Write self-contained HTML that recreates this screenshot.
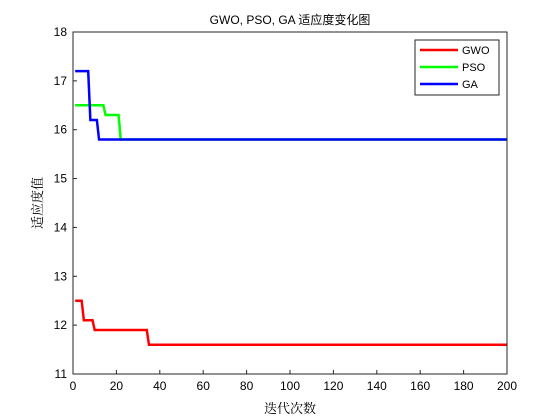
<!DOCTYPE html>
<html><head><meta charset="utf-8"><style>
body{margin:0;background:#fff;}
svg{display:block;font-family:"Liberation Sans","Noto Sans CJK SC",sans-serif;}
</style></head><body>
<svg id="chart" width="560" height="420">
<rect x="0" y="0" width="560" height="420" fill="#fff"/>
<rect x="73" y="32" width="434" height="342" fill="#fff" stroke="none"/>
<g id="grid"></g>
<g id="series"></g>
<rect x="73" y="32" width="434" height="342" fill="none" stroke="#262626" stroke-width="1"/>
<g id="ticks"></g>
<text x="290" y="24" font-size="12" text-anchor="middle" fill="#000">GWO, PSO, GA 适应度变化图</text>
<text x="290" y="413" font-size="13" text-anchor="middle" fill="#000" font-family="Liberation Serif,Noto Serif CJK SC,serif">迭代次数</text>
<text x="0" y="0" font-size="13" text-anchor="middle" fill="#000" transform="translate(42,203) rotate(-90)" font-family="Liberation Serif,Noto Serif CJK SC,serif">适应度值</text>
<g>
<rect x="415" y="40" width="84" height="55" fill="#fff" stroke="#262626" stroke-width="1"/>
<line x1="420" y1="50" x2="458" y2="50" stroke="#ff0000" stroke-width="2.5"/>
<text x="462" y="54" font-size="11">GWO</text>
<line x1="420" y1="67" x2="458" y2="67" stroke="#00ff00" stroke-width="2.5"/>
<text x="462" y="71" font-size="11">PSO</text>
<line x1="420" y1="84" x2="458" y2="84" stroke="#0000ff" stroke-width="2.5"/>
<text x="462" y="88" font-size="11">GA</text>
</g>
</svg>
<script>
const xTicks=[0,20,40,60,80,100,120,140,160,180,200];
const yTicks=[11,12,13,14,15,16,17,18];
// step data: iteration at which each value starts
const gwoIters=[1,5,10,35];
const gwoVals=[12.5,12.1,11.9,11.6];
const psoIters=[1,15,22];
const psoVals=[16.5,16.3,15.8];
const gaIters=[1,8,12];
const gaVals=[17.2,16.2,15.8];
const maxIter=200;
const X=v=>73+(v-0)/200*434;
const Y=v=>374-(v-11)/7*342;
const ns="http://www.w3.org/2000/svg";
const tk=document.getElementById('ticks');
xTicks.forEach(t=>{
  const l=document.createElementNS(ns,'line');
  l.setAttribute('x1',X(t));l.setAttribute('x2',X(t));l.setAttribute('y1',374);l.setAttribute('y2',370);
  l.setAttribute('stroke','#262626');
  
  
  tk.appendChild(l);
  const s=document.createElementNS(ns,'text');
  s.setAttribute('x',X(t));s.setAttribute('y',390);s.setAttribute('font-size','12');s.setAttribute('text-anchor','middle');
  s.textContent=t;
  
  
  tk.appendChild(s);
});
yTicks.forEach(t=>{
  const l=document.createElementNS(ns,'line');
  l.setAttribute('x1',73);l.setAttribute('x2',77);l.setAttribute('y1',Y(t));l.setAttribute('y2',Y(t));
  l.setAttribute('stroke','#262626');
  
  
  tk.appendChild(l);
  const s=document.createElementNS(ns,'text');
  s.setAttribute('x',67);s.setAttribute('y',Y(t)+4);s.setAttribute('font-size','12');s.setAttribute('text-anchor','end');
  s.textContent=t;
  
  
  tk.appendChild(s);
});
function expand(iters,vals){
  const out=[];
  for(let i=1;i<=maxIter;i++){
    let v=vals[0];
    for(let k=0;k<iters.length;k++) if(i>=iters[k]) v=vals[k];
    out.push([i,v]);
  }
  return out;
}
const sg=document.getElementById('series');
[[gwoIters,gwoVals,'#ff0000','series-gwo'],[psoIters,psoVals,'#00ff00','series-pso'],[gaIters,gaVals,'#0000ff','series-ga']].forEach(([it,va,c,n])=>{
  const pts=expand(it,va).map(p=>X(p[0]).toFixed(2)+','+Y(p[1]).toFixed(2)).join(' ');
  const pl=document.createElementNS(ns,'polyline');
  pl.setAttribute('points',pts);pl.setAttribute('fill','none');pl.setAttribute('stroke',c);pl.setAttribute('stroke-width','2.5');
  
  
  sg.appendChild(pl);
});
</script>
</body></html>
